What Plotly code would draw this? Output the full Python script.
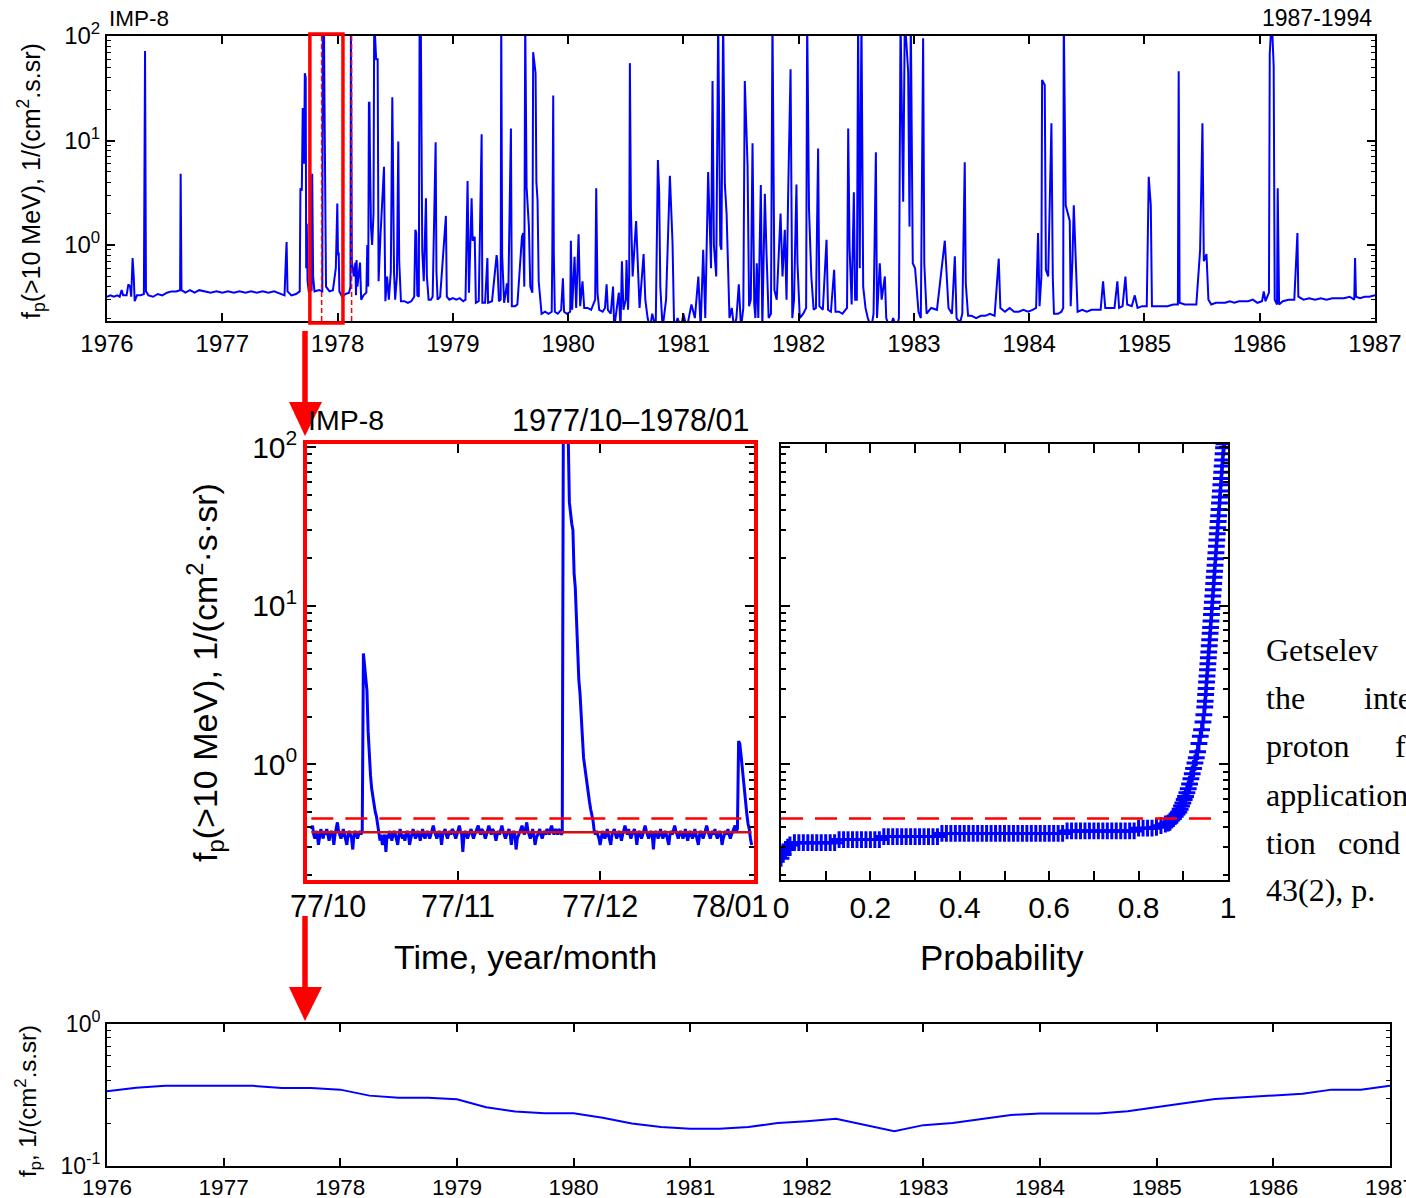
import plotly.graph_objects as go
import pandas as pd

# ---------------- DATA ----------------
# Top panel: IMP-8 >10 MeV proton flux, 1976-1987 (decimal year, flux)
TOP_SERIES = [
    (1976.000, 0.32), (1976.030, 0.33), (1976.060, 0.32), (1976.090, 0.33), (1976.110, 0.32),
    (1976.127, 0.37), (1976.140, 0.33), (1976.170, 0.33), (1976.185, 0.42), (1976.200, 0.40),
    (1976.210, 0.32), (1976.222, 0.75), (1976.232, 0.50), (1976.240, 0.29), (1976.260, 0.33),
    (1976.290, 0.33), (1976.320, 0.34), (1976.330, 72), (1976.338, 0.36), (1976.360, 0.33),
    (1976.400, 0.32), (1976.440, 0.34), (1976.480, 0.33), (1976.520, 0.35), (1976.560, 0.36),
    (1976.600, 0.36), (1976.634, 0.37), (1976.639, 4.8), (1976.646, 0.37), (1976.680, 0.35),
    (1976.720, 0.37), (1976.760, 0.35), (1976.800, 0.37), (1976.850, 0.36), (1976.900, 0.35),
    (1976.950, 0.36), (1977.000, 0.35), (1977.050, 0.36), (1977.100, 0.35), (1977.150, 0.36),
    (1977.200, 0.35), (1977.250, 0.36), (1977.300, 0.35), (1977.350, 0.36), (1977.400, 0.35),
    (1977.450, 0.36), (1977.500, 0.34), (1977.540, 0.33), (1977.552, 0.75), (1977.558, 1.07),
    (1977.566, 0.36), (1977.600, 0.33), (1977.640, 0.34), (1977.672, 0.36), (1977.678, 3.5),
    (1977.690, 3.3), (1977.698, 20), (1977.705, 20), (1977.710, 6), (1977.716, 44),
    (1977.724, 40), (1977.728, 0.6), (1977.733, 1.6), (1977.740, 0.45), (1977.750, 0.36),
    (1977.775, 0.37), (1977.780, 4.8), (1977.788, 0.5), (1977.800, 0.36), (1977.840, 0.37),
    (1977.868, 0.36), (1977.872, 150), (1977.882, 150), (1977.886, 30), (1977.890, 3),
    (1977.900, 0.4), (1977.930, 0.36), (1977.960, 0.37), (1977.985, 0.6), (1977.998, 2.5),
    (1978.004, 0.8), (1978.010, 0.85), (1978.016, 0.36), (1978.040, 0.32), (1978.070, 0.34),
    (1978.100, 0.35), (1978.112, 0.4), (1978.116, 150), (1978.124, 0.7), (1978.140, 0.5),
    (1978.155, 0.68), (1978.160, 0.33), (1978.165, 0.72), (1978.172, 0.4), (1978.195, 0.68),
    (1978.205, 0.30), (1978.225, 0.33), (1978.250, 0.35), (1978.258, 1.0), (1978.266, 0.4),
    (1978.272, 23), (1978.277, 23), (1978.281, 7.5), (1978.290, 1.5), (1978.300, 1.0),
    (1978.312, 2.0), (1978.318, 150), (1978.335, 60), (1978.348, 60), (1978.356, 0.45),
    (1978.372, 1.2), (1978.403, 5.6), (1978.410, 0.9), (1978.415, 0.29), (1978.430, 0.50),
    (1978.445, 0.30), (1978.462, 0.55), (1978.475, 26), (1978.480, 8), (1978.490, 0.55),
    (1978.500, 0.30), (1978.515, 0.50), (1978.527, 9.8), (1978.535, 0.7), (1978.550, 0.29),
    (1978.580, 0.29), (1978.610, 0.28), (1978.640, 0.29), (1978.665, 0.32), (1978.675, 1.4),
    (1978.683, 1.3), (1978.692, 0.33), (1978.705, 0.32), (1978.712, 150), (1978.722, 150),
    (1978.735, 0.87), (1978.748, 0.45), (1978.767, 2.8), (1978.775, 0.5), (1978.790, 0.30),
    (1978.810, 0.30), (1978.825, 0.32), (1978.851, 9.6), (1978.858, 0.56), (1978.868, 0.30),
    (1978.890, 0.32), (1978.940, 1.9), (1978.948, 0.32), (1978.970, 0.30), (1979.000, 0.31),
    (1979.030, 0.30), (1979.060, 0.31), (1979.090, 0.29), (1979.110, 0.30), (1979.128, 4.1),
    (1979.140, 0.35), (1979.163, 2.8), (1979.172, 1.1), (1979.190, 1.2), (1979.200, 0.28),
    (1979.225, 0.29), (1979.250, 11.5), (1979.256, 0.28), (1979.280, 0.28), (1979.300, 0.75),
    (1979.306, 0.28), (1979.340, 0.29), (1979.380, 0.8), (1979.386, 0.7), (1979.400, 0.29),
    (1979.415, 0.30), (1979.420, 150), (1979.428, 0.8), (1979.445, 0.28), (1979.470, 0.43),
    (1979.480, 0.28), (1979.504, 13), (1979.512, 0.26), (1979.540, 0.26), (1979.560, 0.27),
    (1979.592, 0.9), (1979.600, 1.2), (1979.610, 1.3), (1979.620, 0.4), (1979.628, 150),
    (1979.640, 3.6), (1979.660, 1.5), (1979.672, 0.4), (1979.690, 0.35), (1979.697, 70),
    (1979.718, 44), (1979.725, 4), (1979.735, 2.7), (1979.745, 0.45), (1979.770, 0.22),
    (1979.800, 0.23), (1979.830, 0.22), (1979.858, 0.23), (1979.863, 0.82), (1979.871, 27),
    (1979.876, 0.85), (1979.885, 0.23), (1979.910, 0.22), (1979.940, 0.24), (1979.955, 0.48),
    (1979.965, 0.23), (1979.990, 0.22), (1980.018, 0.23), (1980.024, 1.1), (1980.035, 0.24),
    (1980.056, 0.77), (1980.070, 0.25), (1980.091, 1.27), (1980.105, 0.26), (1980.125, 0.45),
    (1980.140, 0.25), (1980.170, 0.25), (1980.200, 0.24), (1980.235, 0.30), (1980.244, 3.5),
    (1980.255, 0.35), (1980.270, 0.24), (1980.300, 0.23), (1980.320, 0.25), (1980.334, 0.42),
    (1980.345, 0.24), (1980.370, 0.22), (1980.390, 0.40), (1980.400, 0.16), (1980.420, 0.24),
    (1980.440, 0.35), (1980.455, 0.16), (1980.467, 0.70), (1980.480, 0.24), (1980.500, 0.30),
    (1980.507, 0.72), (1980.520, 0.24), (1980.530, 0.50), (1980.536, 55), (1980.545, 2.2),
    (1980.560, 0.5), (1980.590, 1.7), (1980.605, 0.50), (1980.620, 0.25), (1980.655, 0.82),
    (1980.670, 0.30), (1980.690, 0.20), (1980.710, 0.16), (1980.730, 0.22), (1980.760, 0.16),
    (1980.779, 6.5), (1980.790, 3.2), (1980.800, 0.40), (1980.820, 0.16), (1980.850, 0.30),
    (1980.868, 1.6), (1980.883, 4.6), (1980.906, 1.05), (1980.920, 0.16), (1980.950, 0.20),
    (1980.980, 0.16), (1981.000, 0.22), (1981.030, 0.16), (1981.070, 0.27), (1981.100, 0.20),
    (1981.130, 0.50), (1981.150, 0.16), (1981.172, 0.90), (1981.190, 0.20), (1981.215, 5.0),
    (1981.240, 0.60), (1981.253, 37), (1981.265, 1.0), (1981.285, 0.5), (1981.302, 150),
    (1981.320, 1.0), (1981.330, 0.9), (1981.345, 150), (1981.360, 3.8), (1981.375, 2.0),
    (1981.400, 0.20), (1981.420, 0.25), (1981.440, 0.16), (1981.460, 0.20), (1981.481, 0.42),
    (1981.500, 0.16), (1981.520, 0.25), (1981.533, 37), (1981.557, 5.8), (1981.570, 0.26),
    (1981.585, 0.30), (1981.600, 9.4), (1981.615, 0.27), (1981.625, 0.20), (1981.637, 0.67),
    (1981.650, 0.20), (1981.672, 3.75), (1981.685, 0.16), (1981.707, 3.1), (1981.720, 0.93),
    (1981.740, 0.20), (1981.760, 0.22), (1981.773, 150), (1981.790, 0.37), (1981.810, 0.30),
    (1981.843, 2.0), (1981.860, 0.5), (1981.880, 1.4), (1981.895, 0.30), (1981.909, 3.1),
    (1981.930, 48), (1981.945, 0.20), (1981.960, 0.30), (1981.981, 3.8), (1981.990, 0.67),
    (1982.010, 0.20), (1982.040, 0.22), (1982.065, 0.25), (1982.074, 150), (1982.090, 2.2),
    (1982.110, 0.5), (1982.130, 0.24), (1982.150, 0.25), (1982.169, 8.4), (1982.180, 0.26),
    (1982.210, 0.24), (1982.242, 1.12), (1982.255, 0.24), (1982.280, 0.23), (1982.308, 0.58),
    (1982.320, 0.23), (1982.350, 0.23), (1982.380, 0.22), (1982.420, 0.25), (1982.430, 13),
    (1982.442, 0.93), (1982.460, 0.27), (1982.479, 3.2), (1982.490, 0.30), (1982.505, 0.30),
    (1982.516, 150), (1982.530, 0.60), (1982.545, 150), (1982.560, 0.40), (1982.580, 0.25),
    (1982.600, 0.20), (1982.630, 0.16), (1982.650, 0.22), (1982.670, 7.7), (1982.680, 0.20),
    (1982.704, 0.67), (1982.720, 0.30), (1982.748, 0.50), (1982.760, 0.20), (1982.790, 0.16),
    (1982.820, 0.20), (1982.850, 0.16), (1982.870, 0.20), (1982.884, 150), (1982.907, 2.6),
    (1982.921, 150), (1982.950, 46), (1982.962, 1.5), (1982.973, 150), (1982.990, 0.67),
    (1983.010, 0.60), (1983.040, 0.23), (1983.060, 0.20), (1983.080, 95), (1983.090, 0.67),
    (1983.110, 0.22), (1983.150, 0.25), (1983.200, 0.24), (1983.268, 1.1), (1983.285, 0.50),
    (1983.300, 0.25), (1983.330, 0.22), (1983.355, 0.78), (1983.370, 0.20), (1983.400, 0.18),
    (1983.420, 0.22), (1983.441, 6.2), (1983.450, 0.43), (1983.470, 0.21), (1983.500, 0.21),
    (1983.540, 0.20), (1983.580, 0.21), (1983.620, 0.21), (1983.660, 0.22), (1983.700, 0.21),
    (1983.736, 0.74), (1983.750, 0.25), (1983.790, 0.23), (1983.830, 0.25), (1983.870, 0.23),
    (1983.910, 0.23), (1983.950, 0.24), (1983.990, 0.23), (1984.030, 0.24), (1984.060, 0.25),
    (1984.077, 1.3), (1984.090, 0.26), (1984.106, 0.5), (1984.112, 38), (1984.135, 34),
    (1984.145, 0.58), (1984.165, 0.50), (1984.193, 14.6), (1984.205, 0.48), (1984.215, 0.22),
    (1984.250, 0.22), (1984.280, 0.23), (1984.295, 0.25), (1984.300, 150), (1984.317, 2.4),
    (1984.340, 1.9), (1984.352, 1.7), (1984.360, 0.26), (1984.375, 0.7), (1984.387, 2.4),
    (1984.405, 0.8), (1984.420, 0.23), (1984.460, 0.24), (1984.500, 0.23), (1984.540, 0.24),
    (1984.580, 0.24), (1984.620, 0.24), (1984.641, 0.45), (1984.660, 0.25), (1984.700, 0.25),
    (1984.740, 0.25), (1984.765, 0.45), (1984.780, 0.25), (1984.810, 0.26), (1984.835, 0.50),
    (1984.850, 0.27), (1984.890, 0.26), (1984.916, 0.33), (1984.940, 0.25), (1984.980, 0.26),
    (1985.020, 0.26), (1985.037, 4.5), (1985.055, 2.4), (1985.065, 0.26), (1985.100, 0.26),
    (1985.150, 0.26), (1985.200, 0.26), (1985.250, 0.27), (1985.290, 0.27), (1985.297, 46),
    (1985.305, 0.28), (1985.350, 0.27), (1985.400, 0.27), (1985.450, 0.27), (1985.483, 0.9),
    (1985.503, 14.6), (1985.515, 0.7), (1985.538, 0.82), (1985.555, 0.30), (1985.580, 0.27),
    (1985.620, 0.28), (1985.660, 0.28), (1985.700, 0.28), (1985.740, 0.29), (1985.780, 0.28),
    (1985.820, 0.29), (1985.860, 0.29), (1985.900, 0.29), (1985.940, 0.30), (1985.980, 0.28),
    (1986.020, 0.29), (1986.035, 0.36), (1986.050, 0.29), (1986.080, 0.35), (1986.087, 68),
    (1986.104, 150), (1986.121, 51), (1986.130, 0.30), (1986.150, 0.27), (1986.156, 3.5),
    (1986.168, 0.27), (1986.200, 0.29), (1986.250, 0.30), (1986.300, 0.30), (1986.327, 1.3),
    (1986.335, 0.32), (1986.380, 0.30), (1986.430, 0.31), (1986.480, 0.30), (1986.530, 0.31),
    (1986.580, 0.30), (1986.630, 0.31), (1986.680, 0.31), (1986.730, 0.31), (1986.780, 0.32),
    (1986.820, 0.30), (1986.827, 0.75), (1986.835, 0.32), (1986.870, 0.31), (1986.910, 0.32),
    (1986.950, 0.32), (1987.000, 0.33),
]
TOP_YEAR = [p[0] for p in TOP_SERIES]
TOP_FLUX = [p[1] for p in TOP_SERIES]

# Middle-left panel: 1977/10-1978/01, six-hourly samples starting 1977-10-01
MID_START = "1977-10-01 00:00"
MID_STEP_HOURS = 6
MID_FLUX = [
    0.39, 0.41, 0.36, 0.34, 0.38, 0.36, 0.31, 0.36, 0.39, 0.36, 0.34, 0.38, 0.36, 0.39, 0.36, 0.33, 0.36, 0.38, 0.36, 0.31,
    0.36, 0.39, 0.43, 0.38, 0.36, 0.34, 0.36, 0.39, 0.36, 0.33, 0.31, 0.36, 0.38, 0.36, 0.34, 0.29, 0.36, 0.38, 0.36, 0.34,
    0.36, 0.38, 0.36, 0.38, 5.0, 4.2, 3.2, 2.9, 1.6, 1.1, 0.85, 0.7, 0.62, 0.55, 0.5, 0.47, 0.42, 0.36, 0.33, 0.36,
    0.31, 0.34, 0.36, 0.28, 0.36, 0.34, 0.38, 0.36, 0.33, 0.36, 0.38, 0.36, 0.34, 0.31, 0.36, 0.39, 0.36, 0.34, 0.36, 0.33,
    0.36, 0.38, 0.36, 0.31, 0.34, 0.36, 0.39, 0.36, 0.34, 0.36, 0.38, 0.36, 0.33, 0.36, 0.39, 0.36, 0.34, 0.36, 0.38, 0.36,
    0.34, 0.36, 0.39, 0.41, 0.38, 0.36, 0.34, 0.36, 0.38, 0.36, 0.31, 0.36, 0.38, 0.39, 0.36, 0.34, 0.36, 0.38, 0.36, 0.39,
    0.38, 0.36, 0.34, 0.36, 0.39, 0.41, 0.38, 0.36, 0.28, 0.36, 0.38, 0.36, 0.34, 0.36, 0.38, 0.39, 0.36, 0.34, 0.36, 0.38,
    0.39, 0.41, 0.38, 0.36, 0.39, 0.38, 0.36, 0.34, 0.36, 0.39, 0.41, 0.38, 0.36, 0.39, 0.38, 0.36, 0.33, 0.36, 0.38, 0.36,
    0.39, 0.41, 0.38, 0.36, 0.34, 0.36, 0.38, 0.39, 0.36, 0.31, 0.36, 0.38, 0.36, 0.29, 0.34, 0.36, 0.38, 0.39, 0.41, 0.38,
    0.36, 0.39, 0.43, 0.38, 0.36, 0.34, 0.36, 0.39, 0.36, 0.31, 0.34, 0.36, 0.38, 0.39, 0.36, 0.34, 0.36, 0.38, 0.36, 0.39,
    0.38, 0.36, 0.39, 0.41, 0.38, 0.36, 0.39, 0.38, 0.36, 0.39, 0.38, 0.36, 0.37, 250, 220, 180, 150, 120, 45, 36,
    33, 30, 16, 13, 7.5, 5.5, 3.4, 2.8, 2.2, 1.5, 1.1, 0.95, 0.85, 0.75, 0.65, 0.58, 0.52, 0.48, 0.44, 0.38,
    0.36, 0.38, 0.36, 0.34, 0.31, 0.36, 0.38, 0.36, 0.34, 0.36, 0.39, 0.36, 0.34, 0.31, 0.36, 0.38, 0.39, 0.36, 0.34, 0.36,
    0.38, 0.36, 0.33, 0.36, 0.39, 0.41, 0.38, 0.36, 0.39, 0.36, 0.34, 0.36, 0.38, 0.39, 0.36, 0.31, 0.36, 0.38, 0.36, 0.34,
    0.36, 0.39, 0.41, 0.38, 0.36, 0.34, 0.36, 0.38, 0.36, 0.29, 0.36, 0.38, 0.36, 0.34, 0.36, 0.39, 0.36, 0.34, 0.36, 0.38,
    0.36, 0.34, 0.31, 0.36, 0.38, 0.36, 0.39, 0.41, 0.38, 0.36, 0.34, 0.36, 0.38, 0.36, 0.34, 0.36, 0.39, 0.36, 0.33, 0.36,
    0.38, 0.36, 0.34, 0.36, 0.39, 0.36, 0.34, 0.31, 0.36, 0.38, 0.36, 0.34, 0.36, 0.39, 0.41, 0.38, 0.36, 0.34, 0.36, 0.38,
    0.36, 0.39, 0.36, 0.34, 0.36, 0.38, 0.36, 0.31, 0.34, 0.36, 0.38, 0.36, 0.39, 0.36, 0.34, 0.36, 0.38, 0.39, 0.41, 0.38,
    0.39, 1.4, 1.35, 1.15, 0.95, 0.8, 0.64, 0.55, 0.48, 0.42, 0.39, 0.34, 0.31,
]
MID_THRESHOLD = 0.455   # dashed red line
MID_BACKGROUND = 0.372  # solid red line
MID_TICK_DATES = ["1977-10-04 12:00", "1977-11-01", "1977-12-01", "1977-12-28 12:00"]
MID_TICK_LABELS = ["77/10", "77/11", "77/12", "78/01"]

# Middle-right panel: probability distribution (probability, flux)
CDF_POINTS = [
    (0.000, 0.255), (0.005, 0.27), (0.010, 0.29), (0.015, 0.30), (0.020, 0.31),
    (0.03, 0.32), (0.04, 0.32), (0.05, 0.32), (0.06, 0.32), (0.07, 0.32), (0.08, 0.32),
    (0.09, 0.32), (0.10, 0.32), (0.11, 0.32), (0.12, 0.32),
    (0.13, 0.335), (0.14, 0.335), (0.15, 0.335), (0.16, 0.335), (0.17, 0.335), (0.18, 0.335),
    (0.19, 0.335), (0.20, 0.335), (0.21, 0.335), (0.22, 0.335),
    (0.23, 0.35), (0.24, 0.35), (0.25, 0.35), (0.26, 0.35), (0.27, 0.35), (0.28, 0.35),
    (0.29, 0.35), (0.30, 0.35), (0.31, 0.35), (0.32, 0.35), (0.33, 0.35), (0.34, 0.35), (0.35, 0.35),
    (0.36, 0.366), (0.37, 0.366), (0.38, 0.366), (0.39, 0.366), (0.40, 0.366), (0.41, 0.366),
    (0.42, 0.366), (0.43, 0.366), (0.44, 0.366), (0.45, 0.366), (0.46, 0.366), (0.47, 0.366),
    (0.48, 0.366), (0.49, 0.366), (0.50, 0.366), (0.51, 0.366), (0.52, 0.366), (0.53, 0.366),
    (0.54, 0.366), (0.55, 0.366), (0.56, 0.366), (0.57, 0.366), (0.58, 0.366), (0.59, 0.366),
    (0.60, 0.366), (0.61, 0.366), (0.62, 0.366), (0.63, 0.366),
    (0.64, 0.38), (0.65, 0.38), (0.66, 0.38), (0.67, 0.38), (0.68, 0.38), (0.69, 0.38),
    (0.70, 0.38), (0.71, 0.38), (0.72, 0.38), (0.73, 0.38), (0.74, 0.38), (0.75, 0.38),
    (0.76, 0.38), (0.77, 0.38), (0.78, 0.38), (0.79, 0.38),
    (0.80, 0.395), (0.81, 0.395), (0.82, 0.395), (0.83, 0.395), (0.84, 0.40),
    (0.85, 0.41), (0.86, 0.42), (0.866, 0.425),
    (0.870, 0.43), (0.874, 0.445), (0.878, 0.455), (0.882, 0.47), (0.886, 0.485), (0.890, 0.50),
    (0.893, 0.52), (0.896, 0.545), (0.899, 0.57), (0.902, 0.60), (0.905, 0.625), (0.908, 0.66),
    (0.911, 0.70), (0.914, 0.75), (0.917, 0.81), (0.920, 0.87), (0.923, 0.94), (0.926, 1.02),
    (0.929, 1.10), (0.932, 1.20), (0.935, 1.35), (0.938, 1.50), (0.941, 1.65), (0.944, 1.85),
    (0.946, 2.05), (0.948, 2.3), (0.949, 2.5), (0.950, 2.75), (0.951, 3.0), (0.952, 3.3),
    (0.953, 3.6), (0.954, 3.95), (0.955, 4.3), (0.956, 4.7), (0.957, 5.1), (0.958, 5.6),
    (0.959, 6.1), (0.960, 6.7), (0.961, 7.3), (0.962, 8.0), (0.963, 8.8), (0.964, 9.6),
    (0.965, 10.5), (0.966, 11.5), (0.967, 12.6), (0.968, 13.8), (0.969, 15.1), (0.970, 16.5),
    (0.971, 18.0), (0.972, 19.8), (0.973, 21.6), (0.974, 23.7), (0.975, 26.0), (0.976, 28.4),
    (0.977, 31.0), (0.978, 34.0), (0.979, 37.0), (0.980, 40.5), (0.981, 44.5), (0.982, 48.5),
    (0.983, 53.0), (0.984, 58.0), (0.985, 63.5), (0.986, 69.5), (0.987, 76.0), (0.988, 83.0),
    (0.989, 91.0), (0.990, 99.0), (0.991, 105.0), (0.992, 110.0),
]
CDF_PROB = [p[0] for p in CDF_POINTS]
CDF_FLUX = [p[1] for p in CDF_POINTS]
CDF_THRESHOLD_END = 0.98

# Bottom panel: background flux f_p
BOT_YEAR = [1976, 1976.25, 1976.5, 1977, 1977.25, 1977.5, 1977.75, 1978, 1978.25, 1978.5, 1978.75,
            1979, 1979.25, 1979.5, 1979.75, 1980, 1980.25, 1980.5, 1980.75, 1981, 1981.25, 1981.5,
            1981.75, 1982, 1982.25, 1982.75, 1983, 1983.25, 1983.5, 1983.75, 1984, 1984.25, 1984.5,
            1984.75, 1985, 1985.25, 1985.5, 1985.75, 1986, 1986.25, 1986.5, 1986.75, 1987]
BOT_FLUX = [0.336, 0.355, 0.367, 0.367, 0.367, 0.354, 0.354, 0.345, 0.313, 0.303, 0.303,
            0.295, 0.259, 0.242, 0.235, 0.235, 0.219, 0.199, 0.188, 0.183, 0.183, 0.188,
            0.201, 0.207, 0.215, 0.176, 0.194, 0.201, 0.215, 0.229, 0.234, 0.234, 0.234,
            0.243, 0.261, 0.278, 0.296, 0.305, 0.313, 0.323, 0.345, 0.345, 0.367]

YEARS = list(range(1976, 1988))
LOG_TICKS_TOP = [1, 10, 100]
LOG_TEXT_TOP = ["10<sup>0</sup>", "10<sup>1</sup>", "10<sup>2</sup>"]
LOG_TICKS_BOT = [0.1, 1]
LOG_TEXT_BOT = ["10<sup>-1</sup>", "10<sup>0</sup>"]
PROB_TICKS = [0, 0.2, 0.4, 0.6, 0.8, 1]
PROB_LABELS = ["0", "0.2", "0.4", "0.6", "0.8", "1"]

SIDE_TEXT = [
    ["Getselev"], ["the", "inte"], ["proton", "f"], ["application"], ["tion", "cond"], ["43(2), p."],
]

# ---------------- FIGURE ----------------
W, H = 1406, 1198
FONT = "Liberation Sans, Arial, sans-serif"
BLUE = "#0000FF"
RED = "#FF0000"


def xd(a, b):
    return [a / W, b / W]


def yd(top, bottom):
    return [1 - bottom / H, 1 - top / H]


def px(x):
    return x / W


def py(y):
    return 1 - y / H


minor_log = [m * 10 ** e for e in range(-2, 3) for m in range(2, 10)]
mid_times = pd.date_range(MID_START, periods=len(MID_FLUX), freq=f"{MID_STEP_HOURS}h")

fig = go.Figure()
fig.add_trace(go.Scatter(x=TOP_YEAR, y=TOP_FLUX, mode="lines", line=dict(color=BLUE, width=2),
                         xaxis="x", yaxis="y", showlegend=False))
fig.add_trace(go.Scatter(x=BOT_YEAR, y=BOT_FLUX, mode="lines", line=dict(color=BLUE, width=2),
                         xaxis="x2", yaxis="y2", showlegend=False))
fig.add_trace(go.Scatter(x=mid_times, y=MID_FLUX, mode="lines", line=dict(color=BLUE, width=3),
                         xaxis="x3", yaxis="y3", showlegend=False))
fig.add_trace(go.Scatter(x=[mid_times[0], mid_times[-1]], y=[MID_THRESHOLD, MID_THRESHOLD], mode="lines",
                         line=dict(color=RED, width=2.5, dash="22px,12px"),
                         xaxis="x3", yaxis="y3", showlegend=False))
fig.add_trace(go.Scatter(x=[mid_times[0], mid_times[-1]], y=[MID_BACKGROUND, MID_BACKGROUND], mode="lines",
                         line=dict(color="#D01010", width=2.5),
                         xaxis="x3", yaxis="y3", showlegend=False))
fig.add_trace(go.Scatter(x=CDF_PROB, y=CDF_FLUX, mode="markers",
                         marker=dict(symbol="cross-thin", size=12, line=dict(color=BLUE, width=3), color=BLUE),
                         xaxis="x4", yaxis="y4", showlegend=False))
fig.add_trace(go.Scatter(x=[0, CDF_THRESHOLD_END], y=[MID_THRESHOLD, MID_THRESHOLD], mode="lines",
                         line=dict(color=RED, width=2.5, dash="22px,12px"),
                         xaxis="x4", yaxis="y4", showlegend=False))

common_ax = dict(showgrid=False, zeroline=False, showline=True, linecolor="black", linewidth=2,
                 mirror="ticks", ticks="inside", tickcolor="black", tickwidth=1.5, ticklen=8)
minor_ax = dict(tickmode="array", tickvals=minor_log, ticks="inside", ticklen=4,
                tickcolor="black", tickwidth=1.2, showgrid=False)

fig.update_layout(
    width=W, height=H, autosize=False,
    margin=dict(l=0, r=0, t=0, b=0, pad=0, autoexpand=False),
    paper_bgcolor="white", plot_bgcolor="white",
    font=dict(family=FONT, color="black"),
    xaxis=dict(**common_ax, domain=xd(107, 1375), range=[1976, 1987], anchor="y",
               tickmode="array", tickvals=YEARS, ticktext=[str(y) for y in YEARS],
               tickfont=dict(size=24), ticklabeloverflow="allow"),
    yaxis=dict(**common_ax, domain=yd(36, 321), type="log", range=[-0.727, 2.0], anchor="x",
               tickmode="array", tickvals=LOG_TICKS_TOP, ticktext=LOG_TEXT_TOP,
               tickfont=dict(size=24), minor=minor_ax),
    xaxis2=dict(**common_ax, domain=xd(107, 1390), range=[1976, 1987], anchor="y2",
                tickmode="array", tickvals=YEARS, ticktext=[str(y) for y in YEARS],
                tickfont=dict(size=22.5), ticklabeloverflow="allow"),
    yaxis2=dict(**common_ax, domain=yd(1024, 1166), type="log", range=[-1, 0], anchor="x2",
                tickmode="array", tickvals=LOG_TICKS_BOT, ticktext=LOG_TEXT_BOT,
                tickfont=dict(size=23), minor=minor_ax),
    xaxis3=dict(showgrid=False, zeroline=False, showline=True, linecolor=RED, linewidth=3.5,
                mirror="ticks", ticks="inside", tickcolor="black", tickwidth=2, ticklen=9,
                domain=xd(307, 754), type="date",
                range=["1977-09-30 02:00", "1978-01-02 12:00"], anchor="y3",
                tickmode="array", tickvals=["1977-11-01", "1977-12-01"], showticklabels=False),
    yaxis3=dict(showgrid=False, zeroline=False, showline=True, linecolor=RED, linewidth=3.5,
                mirror="ticks", ticks="inside", tickcolor="black", tickwidth=2, ticklen=9,
                domain=yd(444, 880), type="log", range=[-0.73, 2.02], anchor="x3",
                tickmode="array", tickvals=LOG_TICKS_TOP, ticktext=LOG_TEXT_TOP,
                tickfont=dict(size=30), minor=dict(minor_ax, ticklen=5, tickwidth=1.5)),
    xaxis4=dict(**dict(common_ax, tickwidth=2, ticklen=9), domain=xd(781, 1228), range=[0, 1], anchor="y4",
                tickmode="array", tickvals=PROB_TICKS, ticktext=PROB_LABELS, tickfont=dict(size=30),
                ticklabeloverflow="allow",
                minor=dict(dtick=0.1, ticks="inside", ticklen=9, tickwidth=2, tickcolor="black")),
    yaxis4=dict(**dict(common_ax, tickwidth=2, ticklen=9), domain=yd(444, 880), type="log", range=[-0.73, 2.02],
                anchor="x4", tickmode="array", tickvals=LOG_TICKS_TOP, showticklabels=False,
                minor=dict(minor_ax, ticklen=5, tickwidth=1.5)),
)


def text_at(x, y, text, size, xanchor="center", yanchor="middle", angle=0, family=None, xref="paper"):
    f = dict(size=size)
    if family:
        f["family"] = family
    return dict(x=x, y=py(y), xref=xref, yref="paper", text=text, showarrow=False,
                xanchor=xanchor, yanchor=yanchor, textangle=angle, font=f)


ann = [
    text_at(px(107), 18, "IMP-8", 22.5, xanchor="left"),
    text_at(px(1374), 18, "1987-1994", 23, xanchor="right"),
    text_at(px(31), 181, "f<sub>p</sub>(>10 MeV), 1/(cm<sup>2</sup>.s.sr)", 25, angle=-90),
    text_at(px(306), 420, "IMP-8", 28.5, xanchor="left"),
    text_at(px(751), 420, "1977/10\u20131978/01", 30.5, xanchor="right"),
    text_at(px(205), 673, "f<sub>p</sub>(>10 MeV), 1/(cm<sup>2</sup>\u00b7s\u00b7sr)", 34, angle=-90),
    text_at(px(525), 957, "Time, year/month", 34),
    text_at(px(1002), 957, "Probability", 35),
    text_at(px(28), 1101, "f<sub>p</sub>, 1/(cm<sup>2</sup>.s.sr)", 24, angle=-90),
]
for d, lab in zip(MID_TICK_DATES, MID_TICK_LABELS):
    ann.append(text_at(d, 906, lab, 30.5, xref="x3"))
line_y = [650, 698, 746, 795, 843, 890]
line_x = [[1264], [1264, 1362], [1264, 1393], [1264], [1264, 1336], [1264]]
for words, xs, yy in zip(SIDE_TEXT, line_x, line_y):
    for w_, xx in zip(words, xs):
        ann.append(text_at(px(xx), yy, w_, 32, xanchor="left",
                           family="Liberation Serif, Times New Roman, serif"))
fig.update_layout(annotations=ann)

shapes = [dict(type="rect", xref="x", yref="paper", x0=1977.76, x1=1978.047,
               y0=py(323), y1=py(34), line=dict(color=RED, width=3.5))]
for xv in [1977.862, 1978.122]:
    shapes.append(dict(type="line", xref="x", yref="y domain", x0=xv, x1=xv, y0=0, y1=1,
                       line=dict(color=RED, width=1.5, dash="5px,3px")))
for y_start, y_tip in [(331, 436), (916, 1021)]:
    shapes.append(dict(type="line", xref="paper", yref="paper", x0=px(305), x1=px(305),
                       y0=py(y_start), y1=py(y_tip - 30), line=dict(color=RED, width=5.5)))
    head = f"M {px(289)},{py(y_tip - 34)} L {px(322)},{py(y_tip - 34)} L {px(305)},{py(y_tip)} Z"
    shapes.append(dict(type="path", xref="paper", yref="paper", path=head,
                       fillcolor=RED, line=dict(color=RED, width=0)))
fig.update_layout(shapes=shapes)

fig.write_html("out.html", config={"displayModeBar": False},
               post_script="document.body.style.margin='0';document.body.style.overflow='hidden';")
